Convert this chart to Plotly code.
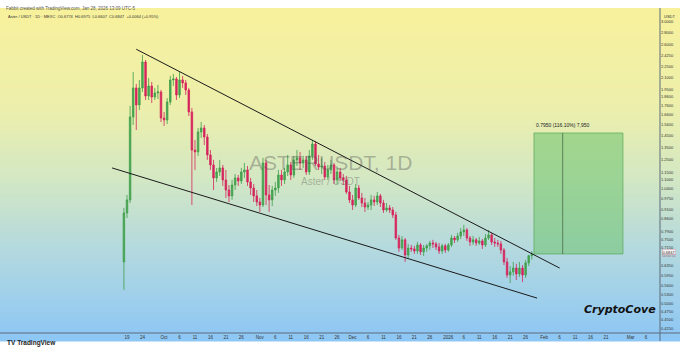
import math
import plotly.graph_objects as go
import pandas as pd

# ---------------- data (ASTER/USDT daily) ----------------
candle_start = "2025-09-18"
opens = [
    # Sep 18-30
    0.651, 0.889, 0.966, 1.638, 1.970, 1.768, 1.970, 2.324, 1.872, 1.995, 1.860, 1.908, 1.920,
    # Oct
    1.627, 1.607, 1.802, 2.073, 2.086, 1.884, 2.073, 2.034, 1.945, 1.691, 1.327, 1.311, 1.489, 1.527, 1.442, 1.286,
    1.207, 1.111, 1.154, 1.184, 1.097, 1.029, 0.991, 1.062, 1.111, 1.090, 1.154, 1.169, 1.083, 1.042, 0.991,
    # Nov
    0.953, 0.935, 1.222, 0.997, 0.966, 1.029, 1.042, 1.132, 1.097, 1.154, 1.207, 1.132, 1.246, 1.262, 1.222,
    1.246, 1.154, 1.278, 1.379, 1.214, 1.191, 1.199, 1.118, 1.169, 1.207, 1.097, 1.154, 1.111, 1.097, 1.016,
    # Dec
    0.966, 0.935, 1.042, 0.978, 0.947, 0.923, 0.935, 0.966, 0.953, 0.991, 0.947, 0.906, 0.918, 0.906, 0.878,
    0.758, 0.711, 0.749, 0.680, 0.711, 0.707, 0.698, 0.725, 0.694, 0.711, 0.721, 0.734, 0.730, 0.716, 0.698, 0.721,
    # Jan
    0.702, 0.725, 0.758, 0.749, 0.768, 0.788, 0.798, 0.758, 0.739, 0.749, 0.734, 0.744, 0.725, 0.758,
    0.773, 0.739, 0.734, 0.730, 0.702, 0.651, 0.599, 0.611, 0.626, 0.603, 0.626, 0.599, 0.647, 0.6774,
]
highs = [
    0.918, 0.997, 1.757, 2.181, 2.021, 2.073, 2.430, 2.354, 2.099, 2.047, 1.970, 2.008, 1.945,
    1.691, 1.848, 2.126, 2.153, 2.113, 2.181, 2.126, 2.073, 1.970, 1.734, 1.415, 1.527, 1.586, 1.556, 1.470, 1.327,
    1.246, 1.184, 1.246, 1.207, 1.169, 1.062, 1.097, 1.139, 1.132, 1.184, 1.222, 1.199, 1.111, 1.069, 1.029,
    0.978, 1.262, 1.246, 1.062, 1.056, 1.083, 1.169, 1.169, 1.184, 1.286, 1.230, 1.278, 1.327, 1.311, 1.278,
    1.278, 1.327, 1.415, 1.406, 1.286, 1.262, 1.230, 1.207, 1.246, 1.222, 1.184, 1.184, 1.139, 1.125, 1.056,
    0.997, 1.069, 1.062, 1.010, 0.978, 0.953, 0.997, 0.991, 1.016, 1.003, 0.966, 0.947, 0.935, 0.923, 0.895,
    0.773, 0.768, 0.758, 0.730, 0.725, 0.721, 0.739, 0.734, 0.725, 0.730, 0.744, 0.749, 0.739, 0.734, 0.730, 0.730,
    0.734, 0.773, 0.768, 0.783, 0.808, 0.824, 0.808, 0.768, 0.768, 0.758, 0.763, 0.753, 0.778, 0.798,
    0.783, 0.758, 0.749, 0.744, 0.711, 0.668, 0.634, 0.651, 0.643, 0.651, 0.638, 0.659, 0.680, 0.6975,
]
lows = [
    0.545, 0.861, 0.947, 1.556, 1.508, 1.712, 1.920, 1.825, 1.825, 1.790, 1.825, 1.837, 1.586,
    1.547, 1.566, 1.768, 1.995, 1.825, 1.848, 1.970, 1.884, 1.648, 0.935, 1.169, 1.278, 1.433, 1.370, 1.246, 1.169,
    1.029, 1.083, 1.125, 1.056, 0.978, 0.953, 0.966, 1.029, 1.056, 1.069, 1.111, 1.056, 0.997, 0.953, 0.929,
    0.895, 0.923, 0.935, 0.895, 0.929, 0.991, 1.010, 1.056, 1.069, 1.125, 1.097, 1.111, 1.199, 1.169, 1.184,
    1.132, 1.132, 1.246, 1.199, 1.169, 1.139, 1.097, 1.097, 1.139, 1.069, 1.069, 1.090, 1.062, 1.003, 0.947,
    0.906, 0.923, 0.966, 0.923, 0.895, 0.906, 0.906, 0.929, 0.935, 0.923, 0.889, 0.895, 0.889, 0.861, 0.749,
    0.694, 0.702, 0.651, 0.668, 0.694, 0.685, 0.685, 0.680, 0.676, 0.694, 0.702, 0.711, 0.702, 0.685, 0.685, 0.689,
    0.694, 0.716, 0.734, 0.739, 0.753, 0.768, 0.744, 0.721, 0.725, 0.721, 0.725, 0.707, 0.716, 0.749,
    0.725, 0.716, 0.716, 0.685, 0.638, 0.588, 0.569, 0.596, 0.580, 0.592, 0.573, 0.588, 0.634, 0.6607,
]
closes = [
    0.889, 0.966, 1.638, 1.970, 1.768, 1.970, 2.324, 1.872, 1.995, 1.860, 1.908, 1.920, 1.627,
    1.607, 1.802, 2.073, 2.086, 1.884, 2.073, 2.034, 1.945, 1.691, 1.327, 1.311, 1.489, 1.527, 1.442, 1.286, 1.207,
    1.111, 1.154, 1.184, 1.097, 1.029, 0.991, 1.062, 1.111, 1.090, 1.154, 1.169, 1.083, 1.042, 0.991, 0.953,
    0.935, 1.222, 0.997, 0.966, 1.029, 1.042, 1.132, 1.097, 1.154, 1.207, 1.132, 1.246, 1.262, 1.222, 1.246,
    1.154, 1.278, 1.379, 1.214, 1.191, 1.199, 1.118, 1.169, 1.207, 1.097, 1.154, 1.111, 1.097, 1.016, 0.966,
    0.935, 1.042, 0.978, 0.947, 0.923, 0.935, 0.966, 0.953, 0.991, 0.947, 0.906, 0.918, 0.906, 0.878, 0.758,
    0.711, 0.749, 0.680, 0.711, 0.707, 0.698, 0.725, 0.694, 0.711, 0.721, 0.734, 0.730, 0.716, 0.698, 0.721, 0.702,
    0.725, 0.758, 0.749, 0.768, 0.788, 0.798, 0.758, 0.739, 0.749, 0.734, 0.744, 0.725, 0.758, 0.773,
    0.739, 0.734, 0.730, 0.702, 0.651, 0.599, 0.611, 0.626, 0.603, 0.626, 0.599, 0.647, 0.6774, 0.6847,
]
dates = pd.date_range(candle_start, periods=len(closes), freq="D")

# falling wedge trendlines (end points)
upper_line_dates = ["2025-09-22 00:00", "2026-02-06 00:00"]
upper_line_prices = [2.52, 0.626]
lower_line_dates = ["2025-09-14 04:00", "2026-01-29 17:00"]
lower_line_prices = [1.184, 0.517]

# price-range (target) box
target_dates = ["2026-01-28 17:00", "2026-02-26 12:00"]
target_low = 0.6847
target_high = 1.479
target_mid_date = "2026-02-07 00:00"
target_label = "0.7950 (116.10%) 7,950"

last_price_label = "0.6847"
countdown_label = "10:50:51"

ytick_vals = [3.0, 2.8, 2.6, 2.425, 2.25, 2.1, 1.95, 1.86, 1.76, 1.66, 1.56, 1.45, 1.35, 1.25,
              1.15, 1.10, 1.04, 0.975, 0.91, 0.86, 0.79, 0.75, 0.715, 0.635, 0.595, 0.56, 0.53,
              0.50, 0.475, 0.45, 0.425]
ytick_text = ["%.4f" % v for v in ytick_vals]

xtick_dates = ["2025-09-19", "2025-09-24", "2025-10-01", "2025-10-06", "2025-10-11", "2025-10-16",
               "2025-10-21", "2025-10-26", "2025-11-01", "2025-11-06", "2025-11-11", "2025-11-16",
               "2025-11-21", "2025-11-26", "2025-12-01", "2025-12-06", "2025-12-11", "2025-12-16",
               "2025-12-21", "2025-12-26", "2026-01-01", "2026-01-06", "2026-01-11", "2026-01-16",
               "2026-01-21", "2026-01-26", "2026-02-01", "2026-02-06", "2026-02-11", "2026-02-16",
               "2026-02-21", "2026-03-01", "2026-03-06"]
xtick_text = ["19", "24", "Oct", "6", "11", "16", "21", "26", "Nov", "6", "11", "16", "21", "26",
              "Dec", "6", "11", "16", "21", "26", "2026", "6", "11", "16", "21", "26", "Feb", "6",
              "11", "16", "21", "Mar", "6"]

x_view = ["2025-08-08 21:36", "2026-03-10 11:46"]
y_view = [0.414, 3.277]

# ---------------- layout geometry ----------------
W, H = 680, 356
ML, MR, MT, MB = 0, 20, 8, 23
PW, PH = W - ML - MR, H - MT - MB


def px(x):
    return (x - ML) / PW


def py(y):
    return (H - MB - y) / PH


# background gradient (yellow -> green -> blue)
stops = [(0.0, (248, 241, 156)), (0.3, (236, 239, 172)), (0.5, (212, 232, 194)),
         (0.72, (180, 217, 222)), (1.0, (140, 198, 246))]


def grad(t):
    for (t0, c0), (t1, c1) in zip(stops[:-1], stops[1:]):
        if t <= t1:
            f = (t - t0) / (t1 - t0)
            return "rgb(%d,%d,%d)" % tuple(round(a + (b - a) * f) for a, b in zip(c0, c1))
    return "rgb(%d,%d,%d)" % stops[-1][1]


shapes = []
top, bot, step = 8, 341, 3
y = top
while y < bot:
    y2 = min(y + step, bot)
    t = (y - top) / (bot - top)
    shapes.append(dict(type="rect", xref="paper", yref="paper", x0=px(0), x1=px(W),
                       y0=py(y2 + 0.5), y1=py(y), fillcolor=grad(t), line=dict(width=0),
                       layer="below"))
    y = y2
# axis frame lines
shapes.append(dict(type="line", xref="paper", yref="paper", x0=px(0), x1=px(W), y0=py(333), y1=py(333),
                   line=dict(color="#5a6a7a", width=1)))
shapes.append(dict(type="line", xref="paper", yref="paper", x0=px(660), x1=px(660), y0=py(8), y1=py(341),
                   line=dict(color="#5a6a7a", width=1)))

fig = go.Figure()

# target box
fig.add_trace(go.Scatter(
    x=[target_dates[0], target_dates[1], target_dates[1], target_dates[0], target_dates[0]],
    y=[target_low, target_low, target_high, target_high, target_low],
    mode="lines", fill="toself", fillcolor="rgba(110,195,110,0.55)",
    line=dict(color="rgba(90,170,90,0.9)", width=0.8), hoverinfo="skip", showlegend=False))
fig.add_trace(go.Scatter(
    x=[target_mid_date, target_mid_date], y=[target_low, target_high], mode="lines",
    line=dict(color="#4a6a4a", width=0.8), hoverinfo="skip", showlegend=False))

# candles
fig.add_trace(go.Candlestick(
    x=dates, open=opens, high=highs, low=lows, close=closes,
    increasing=dict(line=dict(color="#3f9e4a", width=0.8), fillcolor="#4aa853"),
    decreasing=dict(line=dict(color="#d6245c", width=0.8), fillcolor="#d6245c"),
    whiskerwidth=0, showlegend=False))

# trendlines
fig.add_trace(go.Scatter(x=upper_line_dates, y=upper_line_prices, mode="lines",
                         line=dict(color="#1a1a1a", width=1), showlegend=False, hoverinfo="skip"))
fig.add_trace(go.Scatter(x=lower_line_dates, y=lower_line_prices, mode="lines",
                         line=dict(color="#1a1a1a", width=1), showlegend=False, hoverinfo="skip"))

ann = []
ann.append(dict(x=px(563), y=py(125), xref="paper", yref="paper", text=target_label,
                xanchor="center", yanchor="middle", showarrow=False,
                font=dict(size=5, color="#222", family="Liberation Sans")))
# watermark
ann.append(dict(x=px(331), y=py(162), xref="paper", yref="paper", text="ASTERUSDT, 1D", showarrow=False,
                xanchor="center", font=dict(size=21, color="rgba(80,80,80,0.38)", family="Liberation Sans")))
ann.append(dict(x=px(331), y=py(181), xref="paper", yref="paper", text="Aster / USDT", showarrow=False,
                xanchor="center", font=dict(size=10, color="rgba(80,80,80,0.38)", family="Liberation Sans")))
# header texts
ann.append(dict(x=px(4), y=py(4), xref="paper", yref="paper", xanchor="left",
                text="Fabbit created with TradingView.com, Jan 28, 2026 13:09 UTC-5",
                showarrow=False, font=dict(size=4.5, color="#555", family="Liberation Sans")))
ann.append(dict(x=px(6), y=py(11.5), xref="paper", yref="paper", xanchor="left",
                text="Aster / USDT · 1D · MEXC  O0.6774  H0.6975  L0.6607  C0.6847  +0.0064 (+0.95%)",
                showarrow=False, font=dict(size=4, color="#333", family="Liberation Sans")))
ann.append(dict(x=px(669), y=py(12), xref="paper", yref="paper", text="USDT", showarrow=False,
                xanchor="center", font=dict(size=4, color="#333", family="Liberation Sans")))
# last price label
ann.append(dict(x=px(669), y=py(254.5), xref="paper", yref="paper", text=last_price_label, showarrow=False,
                xanchor="center", bgcolor="#f7f4f2", bordercolor="#c9a0a8", borderwidth=0.5, borderpad=0,
                font=dict(size=4, color="#333", family="Liberation Sans")))
ann.append(dict(x=px(669), y=py(259.5), xref="paper", yref="paper", text=countdown_label, showarrow=False,
                xanchor="center", font=dict(size=3.5, color="#a05a6a", family="Liberation Sans")))
# signature
ann.append(dict(x=px(620), y=py(318), xref="paper", yref="paper", text="<b><i>CryptoCove</i></b>",
                xanchor="center", showarrow=False, font=dict(size=11, color="#111", family="DejaVu Sans")))
# TradingView logo
ann.append(dict(x=px(5), y=py(349), xref="paper", yref="paper", xanchor="left",
                text="<b>TV</b> <b>TradingView</b>", showarrow=False,
                font=dict(size=6.5, color="#222", family="Liberation Sans")))

fig.update_layout(
    width=W, height=H, margin=dict(l=ML, r=MR, t=MT, b=MB),
    paper_bgcolor="white", plot_bgcolor="rgba(0,0,0,0)",
    shapes=shapes, annotations=ann, showlegend=False,
    xaxis=dict(type="date", range=x_view, rangeslider=dict(visible=False), showgrid=False,
               zeroline=False, tickmode="array", tickvals=xtick_dates, ticktext=xtick_text,
               tickfont=dict(size=4.5, color="#333", family="Liberation Sans"), ticks="",
               ticklen=0, showline=False),
    yaxis=dict(type="log", side="right", range=[math.log10(v) for v in y_view],
               showgrid=False, zeroline=False, tickmode="array", tickvals=ytick_vals,
               ticktext=ytick_text, ticks="", tickfont=dict(size=4, color="#333", family="Liberation Sans"),
               showline=False),
)

fig.write_html("out.html")
